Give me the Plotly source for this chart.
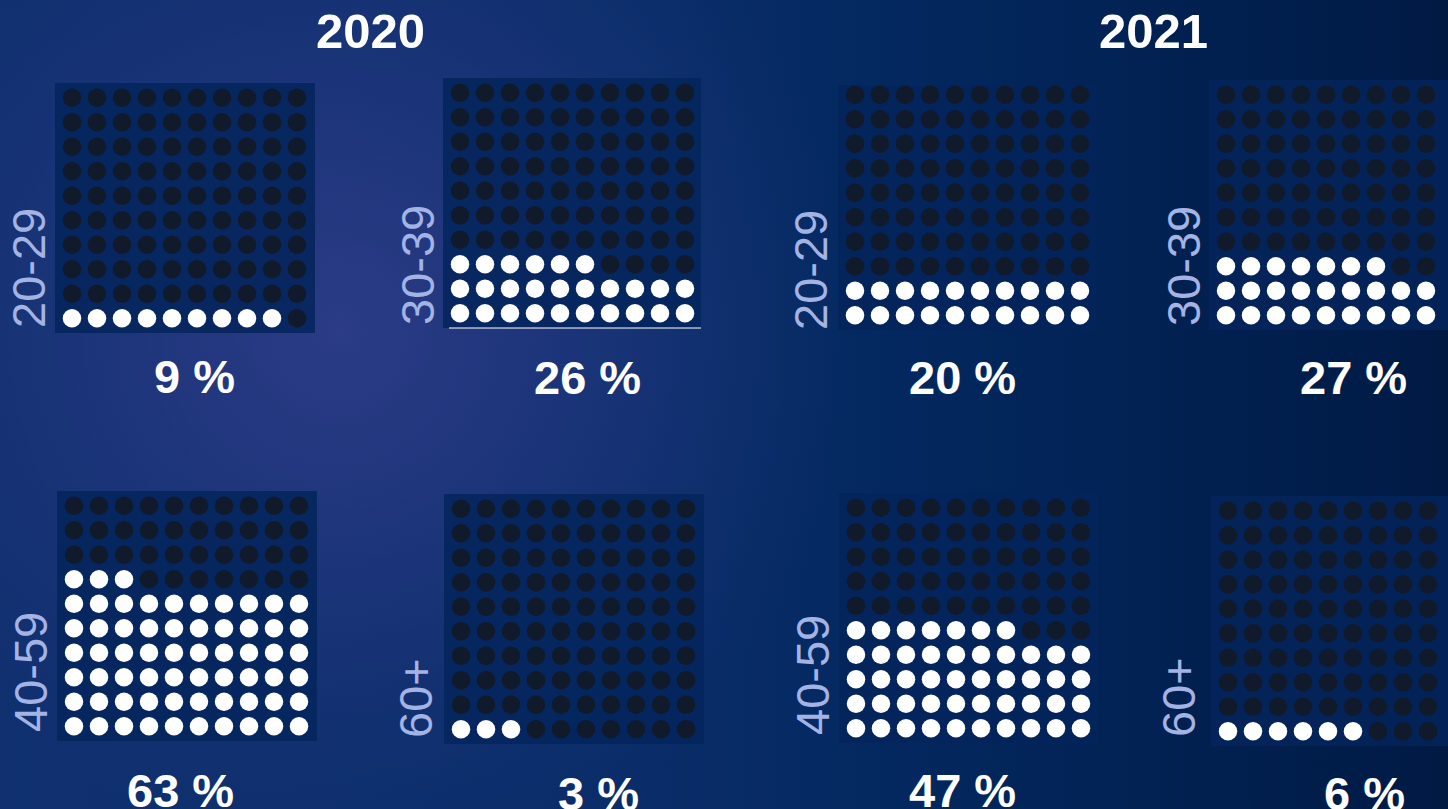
import base64
import plotly.graph_objects as go

W, H = 1448, 809

# ---- data ----
years = ["2020", "2021"]
age_groups = ["20-29", "30-39", "40-59", "60+"]
values_2020 = [9, 26, 63, 3]
values_2021 = [20, 27, 47, 6]
pct_labels_2020 = ["9 %", "26 %", "63 %", "3 %"]
pct_labels_2021 = ["20 %", "27 %", "47 %", "6 %"]

# ---- layout (pixel boxes of each waffle panel: left, top, right, bottom) ----
panels = [
    ("2020", 0, (55, 83, 315, 333)),
    ("2020", 1, (443, 78, 701, 328)),
    ("2021", 0, (838, 85, 1096, 330)),
    ("2021", 1, (1209, 80, 1468, 330)),
    ("2020", 2, (57, 491, 317, 741)),
    ("2020", 3, (444, 494, 704, 744)),
    ("2021", 2, (839, 493, 1098, 743)),
    ("2021", 3, (1211, 496, 1471, 746)),
]
age_label_pos = [(28, 268), (417, 265), (810, 270), (1183, 266),
                 (30, 672), (415, 698), (812, 675), (1178, 697)]
pct_label_pos = [(194, 376), (587, 378), (962, 378), (1353, 377),
                 (180, 790), (598, 793), (962, 790), (1364, 793)]

DX, DY = 25.0, 24.5
OFFX, OFFY = 17.0, 14.7

svg = f'''<svg xmlns="http://www.w3.org/2000/svg" width="{W}" height="{H}" viewBox="0 0 {W} {H}" preserveAspectRatio="none">
<defs>
<linearGradient id="lg" x1="0" y1="0" x2="{W}" y2="0" gradientUnits="userSpaceOnUse">
<stop offset="0" stop-color="#10306f"/>
<stop offset="0.45" stop-color="#0a2d69"/>
<stop offset="0.62" stop-color="#03285f"/>
<stop offset="1" stop-color="#001a44"/>
</linearGradient>
<radialGradient id="rg" cx="340" cy="330" r="520" gradientUnits="userSpaceOnUse">
<stop offset="0" stop-color="#2f3d89" stop-opacity="0.9"/>
<stop offset="0.5" stop-color="#283985" stop-opacity="0.5"/>
<stop offset="1" stop-color="#1c3578" stop-opacity="0"/>
</radialGradient>
</defs>
<rect x="0" y="0" width="{W}" height="{H}" fill="url(#lg)"/>
<rect x="0" y="0" width="{W}" height="{H}" fill="url(#rg)"/>
</svg>'''
bg_src = "data:image/svg+xml;base64," + base64.b64encode(svg.encode()).decode()

fig = go.Figure()
layout = dict(
    width=W, height=H,
    margin=dict(l=0, r=0, t=0, b=0),
    paper_bgcolor="#0a2a62",
    plot_bgcolor="rgba(0,0,0,0)",
    showlegend=False,
    images=[dict(source=bg_src, xref="paper", yref="paper", x=0, y=1,
                 sizex=1, sizey=1, sizing="stretch", layer="below")],
    annotations=[],
    shapes=[],
)

vals = {"2020": values_2020, "2021": values_2021}
pcts = {"2020": pct_labels_2020, "2021": pct_labels_2021}

for k, (yr, gi, (L, T, R, B)) in enumerate(panels, start=1):
    v = vals[yr][gi]
    xs_on, ys_on, xs_off, ys_off = [], [], [], []
    for i in range(100):
        r, c = divmod(i, 10)
        if i < v:
            xs_on.append(c); ys_on.append(r)
        else:
            xs_off.append(c); ys_off.append(r)
    xa = "x" if k == 1 else f"x{k}"
    ya = "y" if k == 1 else f"y{k}"
    for xs, ys, col in ((xs_off, ys_off, "#111a2b"), (xs_on, ys_on, "#ffffff")):
        fig.add_trace(go.Scatter(x=xs, y=ys, mode="markers", xaxis=xa, yaxis=ya,
                                 marker=dict(size=18.5, color=col, line=dict(width=0)),
                                 hoverinfo="skip", cliponaxis=False))
    Rc = min(R, W)
    x0 = -OFFX / DX
    x1 = x0 + (Rc - L) / DX
    y0 = -OFFY / DY
    y1 = y0 + (B - T) / DY
    axis_common = dict(showgrid=False, zeroline=False, showticklabels=False,
                       ticks="", showline=False, fixedrange=True)
    layout["xaxis" if k == 1 else f"xaxis{k}"] = dict(
        domain=[L / W, Rc / W], range=[x0, x1], anchor=ya, **axis_common)
    layout["yaxis" if k == 1 else f"yaxis{k}"] = dict(
        domain=[1 - B / H, 1 - T / H], range=[y0, y1], anchor=xa, **axis_common)
    layout["shapes"].append(dict(
        type="rect", xref=f"{xa} domain", yref=f"{ya} domain", x0=0, x1=1, y0=0, y1=1,
        fillcolor="#03245c", line=dict(width=0), layer="below", opacity=0.85))

    ax, ay = age_label_pos[k - 1]
    layout["annotations"].append(dict(
        text=age_groups[gi], x=ax / W, y=1 - ay / H, xref="paper", yref="paper",
        xanchor="center", yanchor="middle", textangle=-90, showarrow=False,
        font=dict(family="Liberation Sans, Arial", size=47, color="#a3b3e3")))
    px_, py_ = pct_label_pos[k - 1]
    layout["annotations"].append(dict(
        text=f"<b>{pcts[yr][gi]}</b>", x=px_ / W, y=1 - py_ / H, xref="paper", yref="paper",
        xanchor="center", yanchor="middle", showarrow=False,
        font=dict(family="Liberation Sans, Arial", size=47, color="#ffffff")))

# thin white line along bottom edge of the 2020 30-39 panel (as in reference)
layout["shapes"].append(dict(type="line", xref="paper", yref="paper",
                             x0=449 / W, x1=701 / W, y0=1 - 328 / H, y1=1 - 328 / H,
                             line=dict(color="#ffffff", width=1)))

for yr, xc in zip(years, (370, 1153)):
    layout["annotations"].append(dict(
        text=f"<b>{yr}</b>", x=xc / W, y=1 - 31 / H, xref="paper", yref="paper",
        xanchor="center", yanchor="middle", showarrow=False,
        font=dict(family="Liberation Sans, Arial", size=49, color="#ffffff")))

fig.update_layout(**layout)
fig.write_html("out.html")
